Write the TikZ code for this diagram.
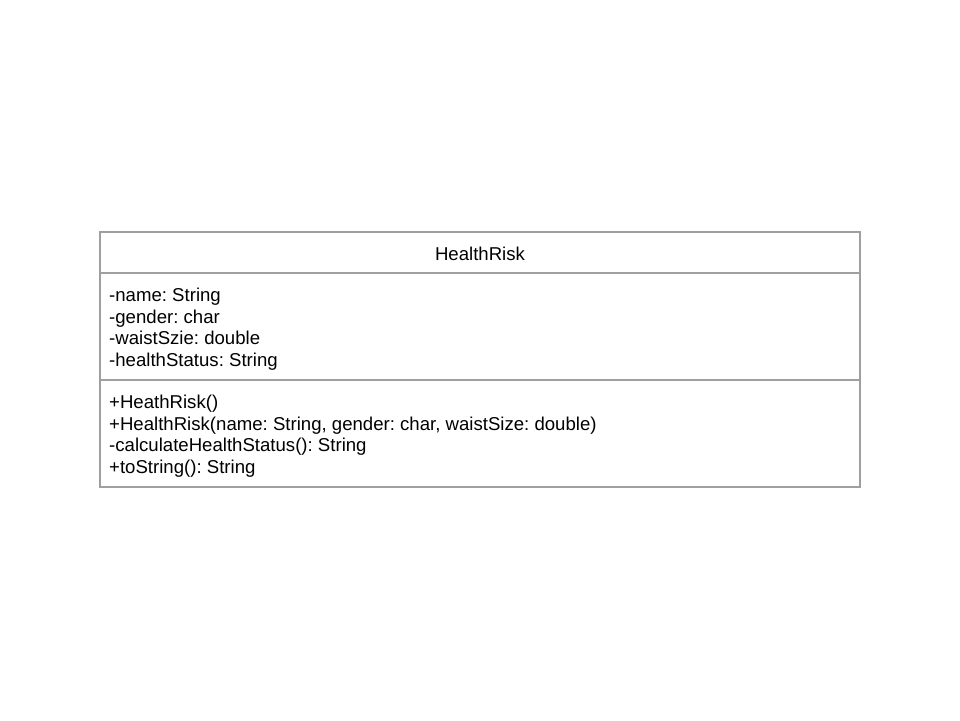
\documentclass[tikz,border=0pt]{standalone}
\usepackage{fontspec}
\setmainfont{Liberation Sans}
\frenchspacing
\begin{document}
\begin{tikzpicture}[x=1pt,y=-1pt,
  umlline/.style={draw=gray!75, line width=2.6pt},
  umltext/.style={anchor=west, inner sep=0pt, text height=18pt, text depth=3.5pt, font=\fontsize{18.6}{22}\selectfont}]
\useasboundingbox (0,0) rectangle (960,720);
\fill[white] (0,0) rectangle (960,720);
\coordinate (tl) at (100,232);
\coordinate (br) at (860,487);
\coordinate (d1l) at (100,273);
\coordinate (d1r) at (860,273);
\coordinate (d2l) at (100,380);
\coordinate (d2r) at (860,380);
\draw[umlline, line cap=rect] (tl) rectangle (br);
\draw[umlline] (d1l) -- (d1r);
\draw[umlline] (d2l) -- (d2r);
\node[umltext, anchor=center] (title) at (480,253) {HealthRisk};
\node[umltext] (a1) at (109,294) {-name: String};
\node[umltext] (a2) at (109,316) {-gender: char};
\node[umltext] (a3) at (109,337.5) {-waistSzie: double};
\node[umltext] (a4) at (109,359) {-healthStatus: String};
\node[umltext] (m1) at (109,401) {+HeathRisk()};
\node[umltext] (m2) at (109,423) {+HealthRisk(name: String, gender: char, waistSize: double)};
\node[umltext] (m3) at (109,444.5) {-calculateHealthStatus(): String};
\node[umltext] (m4) at (109,466) {+toString(): String};
\end{tikzpicture}
\end{document}
